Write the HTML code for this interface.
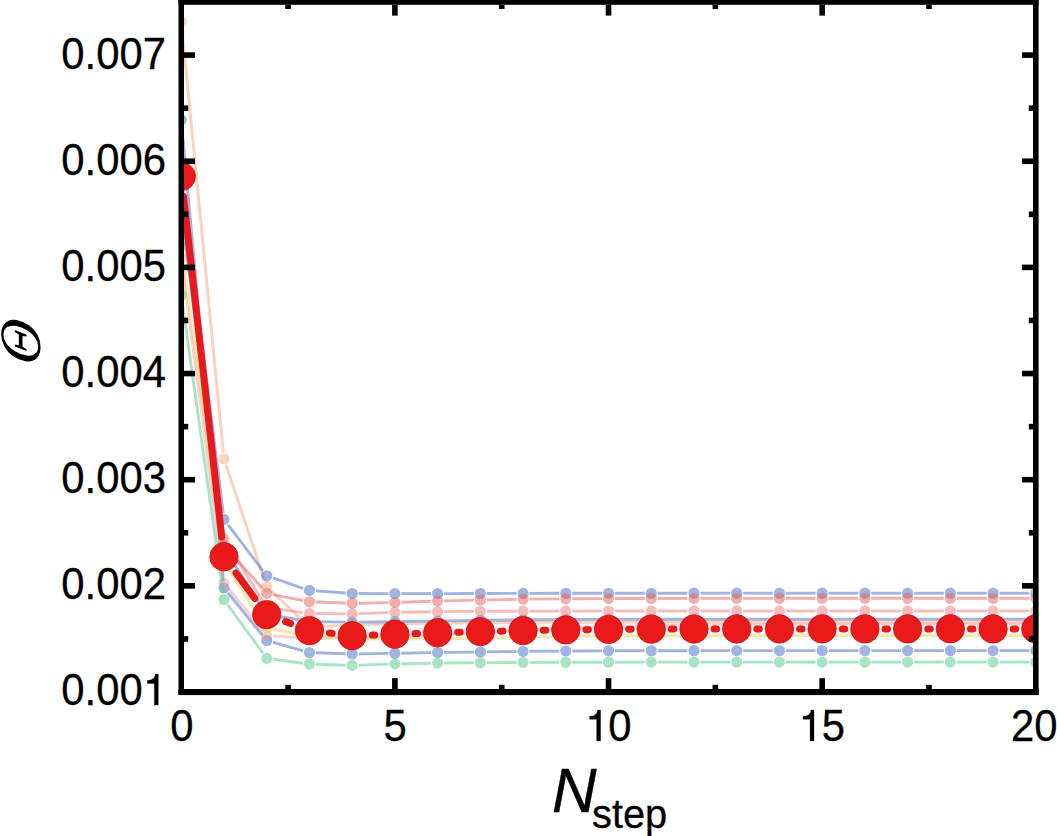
<!DOCTYPE html>
<html><head><meta charset="utf-8"><title>chart</title>
<style>
html,body{margin:0;padding:0;background:#fff;}
body{width:1057px;height:836px;overflow:hidden;font-family:"Liberation Sans",sans-serif;}
svg{display:block;}
</style></head><body>
<svg width="1057" height="836" viewBox="0 0 1057 836"><defs><clipPath id="pc"><rect x="184" y="4.8" width="849" height="684.2"/></clipPath></defs><g clip-path="url(#pc)"><g stroke="rgba(245,165,125,0.50)" stroke-width="2.90" fill="none"><line x1="181.88" y1="27.97" x2="223.35" y2="452.53"/><line x1="226.04" y1="465.16" x2="264.64" y2="580.44"/><line x1="271.43" y1="591.07" x2="304.71" y2="622.53"/><line x1="315.93" y1="626.70" x2="345.67" y2="625.30"/><line x1="358.66" y1="624.85" x2="388.39" y2="624.15"/><line x1="401.39" y1="623.89" x2="431.12" y2="623.41"/><line x1="444.11" y1="623.22" x2="473.84" y2="622.88"/><line x1="486.84" y1="622.75" x2="516.57" y2="622.49"/><line x1="529.57" y1="622.41" x2="559.30" y2="622.27"/><line x1="572.30" y1="622.23" x2="602.03" y2="622.15"/><line x1="615.02" y1="622.12" x2="644.75" y2="622.08"/><line x1="657.75" y1="622.07" x2="687.48" y2="622.05"/><line x1="700.48" y1="622.04" x2="730.21" y2="622.02"/><line x1="743.21" y1="622.02" x2="772.94" y2="622.01"/><line x1="785.93" y1="622.01" x2="815.66" y2="622.01"/><line x1="828.66" y1="622.01" x2="858.39" y2="622.00"/><line x1="871.39" y1="622.00" x2="901.12" y2="622.00"/><line x1="914.12" y1="622.00" x2="943.85" y2="622.00"/><line x1="956.84" y1="622.00" x2="986.57" y2="622.00"/><line x1="999.57" y1="622.00" x2="1029.30" y2="622.00"/></g><g fill="rgba(245,165,125,0.50)"><circle cx="181.25" cy="21.50" r="5.60"/><circle cx="223.98" cy="459.00" r="5.60"/><circle cx="266.70" cy="586.60" r="5.60"/><circle cx="309.43" cy="627.00" r="5.60"/><circle cx="352.16" cy="625.00" r="5.60"/><circle cx="394.89" cy="624.00" r="5.60"/><circle cx="437.61" cy="623.30" r="5.60"/><circle cx="480.34" cy="622.80" r="5.60"/><circle cx="523.07" cy="622.44" r="5.60"/><circle cx="565.80" cy="622.24" r="5.60"/><circle cx="608.52" cy="622.13" r="5.60"/><circle cx="651.25" cy="622.07" r="5.60"/><circle cx="693.98" cy="622.04" r="5.60"/><circle cx="736.71" cy="622.02" r="5.60"/><circle cx="779.43" cy="622.01" r="5.60"/><circle cx="822.16" cy="622.01" r="5.60"/><circle cx="864.89" cy="622.00" r="5.60"/><circle cx="907.62" cy="622.00" r="5.60"/><circle cx="950.35" cy="622.00" r="5.60"/><circle cx="993.07" cy="622.00" r="5.60"/><circle cx="1035.80" cy="622.00" r="5.60"/></g><g stroke="rgba(65,105,195,0.50)" stroke-width="2.90" fill="none"><line x1="181.84" y1="126.27" x2="223.39" y2="581.53"/><line x1="228.08" y1="593.04" x2="262.60" y2="635.46"/><line x1="272.96" y1="642.27" x2="303.18" y2="650.83"/><line x1="315.93" y1="652.81" x2="345.66" y2="653.79"/><line x1="358.66" y1="653.89" x2="388.39" y2="653.41"/><line x1="401.39" y1="653.18" x2="431.12" y2="652.62"/><line x1="444.11" y1="652.42" x2="473.84" y2="652.08"/><line x1="486.84" y1="651.90" x2="516.57" y2="651.47"/><line x1="529.57" y1="651.32" x2="559.30" y2="651.08"/><line x1="572.30" y1="650.99" x2="602.03" y2="650.86"/><line x1="615.02" y1="650.82" x2="644.75" y2="650.74"/><line x1="657.75" y1="650.72" x2="687.48" y2="650.68"/><line x1="700.48" y1="650.67" x2="730.21" y2="650.64"/><line x1="743.21" y1="650.64" x2="772.94" y2="650.62"/><line x1="785.93" y1="650.62" x2="815.66" y2="650.61"/><line x1="828.66" y1="650.61" x2="858.39" y2="650.61"/><line x1="871.39" y1="650.61" x2="901.12" y2="650.60"/><line x1="914.12" y1="650.60" x2="943.85" y2="650.60"/><line x1="956.84" y1="650.60" x2="986.57" y2="650.60"/><line x1="999.57" y1="650.60" x2="1029.30" y2="650.60"/></g><g fill="rgba(65,105,195,0.50)"><circle cx="181.25" cy="119.80" r="5.60"/><circle cx="223.98" cy="588.00" r="5.60"/><circle cx="266.70" cy="640.50" r="5.60"/><circle cx="309.43" cy="652.60" r="5.60"/><circle cx="352.16" cy="654.00" r="5.60"/><circle cx="394.89" cy="653.30" r="5.60"/><circle cx="437.61" cy="652.50" r="5.60"/><circle cx="480.34" cy="652.00" r="5.60"/><circle cx="523.07" cy="651.37" r="5.60"/><circle cx="565.80" cy="651.02" r="5.60"/><circle cx="608.52" cy="650.83" r="5.60"/><circle cx="651.25" cy="650.73" r="5.60"/><circle cx="693.98" cy="650.67" r="5.60"/><circle cx="736.71" cy="650.64" r="5.60"/><circle cx="779.43" cy="650.62" r="5.60"/><circle cx="822.16" cy="650.61" r="5.60"/><circle cx="864.89" cy="650.61" r="5.60"/><circle cx="907.62" cy="650.60" r="5.60"/><circle cx="950.35" cy="650.60" r="5.60"/><circle cx="993.07" cy="650.60" r="5.60"/><circle cx="1035.80" cy="650.60" r="5.60"/></g><g stroke="rgba(241,140,140,0.40)" stroke-width="2.90" fill="none"><line x1="182.10" y1="264.44" x2="223.13" y2="576.56"/><line x1="228.08" y1="588.04" x2="262.60" y2="630.46"/><line x1="273.19" y1="635.93" x2="302.95" y2="637.87"/><line x1="315.93" y1="638.25" x2="345.66" y2="638.05"/><line x1="358.66" y1="637.85" x2="388.39" y2="637.15"/><line x1="401.38" y1="636.70" x2="431.12" y2="635.30"/><line x1="444.10" y1="634.62" x2="473.85" y2="632.88"/><line x1="486.83" y1="632.12" x2="516.58" y2="630.38"/><line x1="529.56" y1="629.70" x2="559.30" y2="628.30"/><line x1="572.29" y1="627.79" x2="602.03" y2="626.81"/><line x1="615.02" y1="626.45" x2="644.75" y2="625.75"/><line x1="657.75" y1="625.51" x2="687.48" y2="625.09"/><line x1="700.48" y1="624.94" x2="730.21" y2="624.66"/><line x1="743.21" y1="624.55" x2="772.94" y2="624.35"/><line x1="785.93" y1="624.27" x2="815.66" y2="624.13"/><line x1="828.66" y1="624.08" x2="858.39" y2="624.02"/><line x1="871.39" y1="624.00" x2="901.12" y2="624.00"/><line x1="914.12" y1="624.00" x2="943.85" y2="624.00"/><line x1="956.85" y1="624.00" x2="986.57" y2="624.00"/><line x1="999.57" y1="624.00" x2="1029.30" y2="624.00"/></g><g fill="rgba(241,140,140,0.40)"><circle cx="181.25" cy="258.00" r="5.60"/><circle cx="223.98" cy="583.00" r="5.60"/><circle cx="266.70" cy="635.50" r="5.60"/><circle cx="309.43" cy="638.30" r="5.60"/><circle cx="352.16" cy="638.00" r="5.60"/><circle cx="394.89" cy="637.00" r="5.60"/><circle cx="437.61" cy="635.00" r="5.60"/><circle cx="480.34" cy="632.50" r="5.60"/><circle cx="523.07" cy="630.00" r="5.60"/><circle cx="565.80" cy="628.00" r="5.60"/><circle cx="608.52" cy="626.60" r="5.60"/><circle cx="651.25" cy="625.60" r="5.60"/><circle cx="693.98" cy="625.00" r="5.60"/><circle cx="736.71" cy="624.60" r="5.60"/><circle cx="779.43" cy="624.30" r="5.60"/><circle cx="822.16" cy="624.10" r="5.60"/><circle cx="864.89" cy="624.00" r="5.60"/><circle cx="907.62" cy="624.00" r="5.60"/><circle cx="950.35" cy="624.00" r="5.60"/><circle cx="993.07" cy="624.00" r="5.60"/><circle cx="1035.80" cy="624.00" r="5.60"/></g><g stroke="rgba(250,205,80,0.50)" stroke-width="2.90" fill="none"><line x1="182.12" y1="253.44" x2="223.11" y2="556.56"/><line x1="227.53" y1="568.44" x2="263.15" y2="623.06"/><line x1="273.12" y1="629.55" x2="303.02" y2="634.45"/><line x1="315.91" y1="636.00" x2="345.68" y2="638.30"/><line x1="358.66" y1="638.83" x2="388.39" y2="638.97"/><line x1="401.39" y1="638.97" x2="431.12" y2="638.83"/><line x1="444.11" y1="638.68" x2="473.84" y2="638.12"/><line x1="486.84" y1="637.85" x2="516.57" y2="637.15"/><line x1="529.57" y1="636.91" x2="559.30" y2="636.49"/><line x1="572.30" y1="636.35" x2="602.03" y2="636.09"/><line x1="615.02" y1="636.01" x2="644.75" y2="635.87"/><line x1="657.75" y1="635.83" x2="687.48" y2="635.75"/><line x1="700.48" y1="635.72" x2="730.21" y2="635.68"/><line x1="743.21" y1="635.67" x2="772.94" y2="635.65"/><line x1="785.93" y1="635.64" x2="815.66" y2="635.62"/><line x1="828.66" y1="635.62" x2="858.39" y2="635.61"/><line x1="871.39" y1="635.61" x2="901.12" y2="635.61"/><line x1="914.12" y1="635.61" x2="943.85" y2="635.60"/><line x1="956.84" y1="635.60" x2="986.57" y2="635.60"/><line x1="999.57" y1="635.60" x2="1029.30" y2="635.60"/></g><g fill="rgba(250,205,80,0.50)"><circle cx="181.25" cy="247.00" r="5.60"/><circle cx="223.98" cy="563.00" r="5.60"/><circle cx="266.70" cy="628.50" r="5.60"/><circle cx="309.43" cy="635.50" r="5.60"/><circle cx="352.16" cy="638.80" r="5.60"/><circle cx="394.89" cy="639.00" r="5.60"/><circle cx="437.61" cy="638.80" r="5.60"/><circle cx="480.34" cy="638.00" r="5.60"/><circle cx="523.07" cy="637.00" r="5.60"/><circle cx="565.80" cy="636.40" r="5.60"/><circle cx="608.52" cy="636.04" r="5.60"/><circle cx="651.25" cy="635.84" r="5.60"/><circle cx="693.98" cy="635.73" r="5.60"/><circle cx="736.71" cy="635.67" r="5.60"/><circle cx="779.43" cy="635.64" r="5.60"/><circle cx="822.16" cy="635.62" r="5.60"/><circle cx="864.89" cy="635.61" r="5.60"/><circle cx="907.62" cy="635.61" r="5.60"/><circle cx="950.35" cy="635.60" r="5.60"/><circle cx="993.07" cy="635.60" r="5.60"/><circle cx="1035.80" cy="635.60" r="5.60"/></g><g stroke="rgba(81,201,137,0.50)" stroke-width="2.90" fill="none"><line x1="182.15" y1="301.44" x2="223.07" y2="593.06"/><line x1="227.79" y1="604.76" x2="262.89" y2="653.14"/><line x1="273.15" y1="659.26" x2="302.99" y2="663.24"/><line x1="315.93" y1="664.30" x2="345.66" y2="665.20"/><line x1="358.66" y1="665.17" x2="388.39" y2="664.13"/><line x1="401.39" y1="663.78" x2="431.12" y2="663.22"/><line x1="444.11" y1="663.04" x2="473.84" y2="662.76"/><line x1="486.84" y1="662.66" x2="516.57" y2="662.47"/><line x1="529.57" y1="662.41" x2="559.30" y2="662.30"/><line x1="572.30" y1="662.27" x2="602.03" y2="662.21"/><line x1="615.02" y1="662.19" x2="644.75" y2="662.16"/><line x1="657.75" y1="662.15" x2="687.48" y2="662.13"/><line x1="700.48" y1="662.13" x2="730.21" y2="662.12"/><line x1="743.21" y1="662.12" x2="772.94" y2="662.11"/><line x1="785.93" y1="662.11" x2="815.66" y2="662.11"/><line x1="828.66" y1="662.10" x2="858.39" y2="662.10"/><line x1="871.39" y1="662.10" x2="901.12" y2="662.10"/><line x1="914.12" y1="662.10" x2="943.85" y2="662.10"/><line x1="956.84" y1="662.10" x2="986.57" y2="662.10"/><line x1="999.57" y1="662.10" x2="1029.30" y2="662.10"/></g><g fill="rgba(81,201,137,0.50)"><circle cx="181.25" cy="295.00" r="5.60"/><circle cx="223.98" cy="599.50" r="5.60"/><circle cx="266.70" cy="658.40" r="5.60"/><circle cx="309.43" cy="664.10" r="5.60"/><circle cx="352.16" cy="665.40" r="5.60"/><circle cx="394.89" cy="663.90" r="5.60"/><circle cx="437.61" cy="663.10" r="5.60"/><circle cx="480.34" cy="662.70" r="5.60"/><circle cx="523.07" cy="662.43" r="5.60"/><circle cx="565.80" cy="662.28" r="5.60"/><circle cx="608.52" cy="662.20" r="5.60"/><circle cx="651.25" cy="662.15" r="5.60"/><circle cx="693.98" cy="662.13" r="5.60"/><circle cx="736.71" cy="662.12" r="5.60"/><circle cx="779.43" cy="662.11" r="5.60"/><circle cx="822.16" cy="662.11" r="5.60"/><circle cx="864.89" cy="662.10" r="5.60"/><circle cx="907.62" cy="662.10" r="5.60"/><circle cx="950.35" cy="662.10" r="5.60"/><circle cx="993.07" cy="662.10" r="5.60"/><circle cx="1035.80" cy="662.10" r="5.60"/></g><g stroke="rgba(65,105,195,0.50)" stroke-width="2.90" fill="none"><line x1="182.07" y1="216.45" x2="223.16" y2="541.55"/><line x1="227.49" y1="553.47" x2="263.19" y2="609.03"/><line x1="273.12" y1="615.55" x2="303.02" y2="620.45"/><line x1="315.93" y1="621.61" x2="345.66" y2="622.09"/><line x1="358.66" y1="622.11" x2="388.39" y2="621.69"/><line x1="401.39" y1="621.51" x2="431.12" y2="621.09"/><line x1="444.11" y1="620.91" x2="473.84" y2="620.49"/><line x1="486.84" y1="620.32" x2="516.57" y2="619.94"/><line x1="529.57" y1="619.81" x2="559.30" y2="619.61"/><line x1="572.30" y1="619.54" x2="602.03" y2="619.42"/><line x1="615.02" y1="619.39" x2="644.75" y2="619.32"/><line x1="657.75" y1="619.30" x2="687.48" y2="619.27"/><line x1="700.48" y1="619.26" x2="730.21" y2="619.24"/><line x1="743.21" y1="619.23" x2="772.94" y2="619.22"/><line x1="785.93" y1="619.22" x2="815.66" y2="619.21"/><line x1="828.66" y1="619.21" x2="858.39" y2="619.21"/><line x1="871.39" y1="619.21" x2="901.12" y2="619.20"/><line x1="914.12" y1="619.20" x2="943.85" y2="619.20"/><line x1="956.84" y1="619.20" x2="986.57" y2="619.20"/><line x1="999.57" y1="619.20" x2="1029.30" y2="619.20"/></g><g fill="rgba(65,105,195,0.50)"><circle cx="181.25" cy="210.00" r="5.60"/><circle cx="223.98" cy="548.00" r="5.60"/><circle cx="266.70" cy="614.50" r="5.60"/><circle cx="309.43" cy="621.50" r="5.60"/><circle cx="352.16" cy="622.20" r="5.60"/><circle cx="394.89" cy="621.60" r="5.60"/><circle cx="437.61" cy="621.00" r="5.60"/><circle cx="480.34" cy="620.40" r="5.60"/><circle cx="523.07" cy="619.86" r="5.60"/><circle cx="565.80" cy="619.56" r="5.60"/><circle cx="608.52" cy="619.40" r="5.60"/><circle cx="651.25" cy="619.31" r="5.60"/><circle cx="693.98" cy="619.26" r="5.60"/><circle cx="736.71" cy="619.23" r="5.60"/><circle cx="779.43" cy="619.22" r="5.60"/><circle cx="822.16" cy="619.21" r="5.60"/><circle cx="864.89" cy="619.21" r="5.60"/><circle cx="907.62" cy="619.20" r="5.60"/><circle cx="950.35" cy="619.20" r="5.60"/><circle cx="993.07" cy="619.20" r="5.60"/><circle cx="1035.80" cy="619.20" r="5.60"/></g><g stroke="rgba(65,105,195,0.50)" stroke-width="2.90" fill="none"><line x1="182.05" y1="182.95" x2="223.17" y2="512.95"/><line x1="227.90" y1="524.58" x2="262.78" y2="570.62"/><line x1="272.86" y1="577.90" x2="303.28" y2="588.30"/><line x1="315.92" y1="590.87" x2="345.68" y2="593.03"/><line x1="358.66" y1="593.52" x2="388.39" y2="593.58"/><line x1="401.39" y1="593.60" x2="431.11" y2="593.60"/><line x1="444.11" y1="593.58" x2="473.84" y2="593.52"/><line x1="486.84" y1="593.48" x2="516.57" y2="593.39"/><line x1="529.57" y1="593.35" x2="559.30" y2="593.30"/><line x1="572.30" y1="593.28" x2="602.03" y2="593.26"/><line x1="615.02" y1="593.25" x2="644.75" y2="593.23"/><line x1="657.75" y1="593.23" x2="687.48" y2="593.22"/><line x1="700.48" y1="593.21" x2="730.21" y2="593.21"/><line x1="743.21" y1="593.21" x2="772.94" y2="593.21"/><line x1="785.93" y1="593.20" x2="815.66" y2="593.20"/><line x1="828.66" y1="593.20" x2="858.39" y2="593.20"/><line x1="871.39" y1="593.20" x2="901.12" y2="593.20"/><line x1="914.12" y1="593.20" x2="943.85" y2="593.20"/><line x1="956.84" y1="593.20" x2="986.57" y2="593.20"/><line x1="999.57" y1="593.20" x2="1029.30" y2="593.20"/></g><g fill="rgba(65,105,195,0.50)"><circle cx="181.25" cy="176.50" r="5.60"/><circle cx="223.98" cy="519.40" r="5.60"/><circle cx="266.70" cy="575.80" r="5.60"/><circle cx="309.43" cy="590.40" r="5.60"/><circle cx="352.16" cy="593.50" r="5.60"/><circle cx="394.89" cy="593.60" r="5.60"/><circle cx="437.61" cy="593.60" r="5.60"/><circle cx="480.34" cy="593.50" r="5.60"/><circle cx="523.07" cy="593.37" r="5.60"/><circle cx="565.80" cy="593.29" r="5.60"/><circle cx="608.52" cy="593.25" r="5.60"/><circle cx="651.25" cy="593.23" r="5.60"/><circle cx="693.98" cy="593.22" r="5.60"/><circle cx="736.71" cy="593.21" r="5.60"/><circle cx="779.43" cy="593.20" r="5.60"/><circle cx="822.16" cy="593.20" r="5.60"/><circle cx="864.89" cy="593.20" r="5.60"/><circle cx="907.62" cy="593.20" r="5.60"/><circle cx="950.35" cy="593.20" r="5.60"/><circle cx="993.07" cy="593.20" r="5.60"/><circle cx="1035.80" cy="593.20" r="5.60"/></g><g stroke="rgba(237,121,121,0.50)" stroke-width="2.90" fill="none"><line x1="182.06" y1="206.45" x2="223.16" y2="532.35"/><line x1="227.41" y1="544.32" x2="263.27" y2="601.98"/><line x1="273.14" y1="608.40" x2="303.00" y2="612.60"/><line x1="315.93" y1="613.56" x2="345.66" y2="613.84"/><line x1="358.66" y1="613.67" x2="388.39" y2="612.63"/><line x1="401.39" y1="612.28" x2="431.12" y2="611.72"/><line x1="444.11" y1="611.55" x2="473.84" y2="611.35"/><line x1="486.84" y1="611.28" x2="516.57" y2="611.19"/><line x1="529.57" y1="611.15" x2="559.30" y2="611.10"/><line x1="572.30" y1="611.08" x2="602.03" y2="611.06"/><line x1="615.02" y1="611.05" x2="644.75" y2="611.03"/><line x1="657.75" y1="611.03" x2="687.48" y2="611.02"/><line x1="700.48" y1="611.01" x2="730.21" y2="611.01"/><line x1="743.21" y1="611.01" x2="772.94" y2="611.01"/><line x1="785.93" y1="611.00" x2="815.66" y2="611.00"/><line x1="828.66" y1="611.00" x2="858.39" y2="611.00"/><line x1="871.39" y1="611.00" x2="901.12" y2="611.00"/><line x1="914.12" y1="611.00" x2="943.85" y2="611.00"/><line x1="956.84" y1="611.00" x2="986.57" y2="611.00"/><line x1="999.57" y1="611.00" x2="1029.30" y2="611.00"/></g><g fill="rgba(237,121,121,0.50)"><circle cx="181.25" cy="200.00" r="5.60"/><circle cx="223.98" cy="538.80" r="5.60"/><circle cx="266.70" cy="607.50" r="5.60"/><circle cx="309.43" cy="613.50" r="5.60"/><circle cx="352.16" cy="613.90" r="5.60"/><circle cx="394.89" cy="612.40" r="5.60"/><circle cx="437.61" cy="611.60" r="5.60"/><circle cx="480.34" cy="611.30" r="5.60"/><circle cx="523.07" cy="611.16" r="5.60"/><circle cx="565.80" cy="611.09" r="5.60"/><circle cx="608.52" cy="611.05" r="5.60"/><circle cx="651.25" cy="611.03" r="5.60"/><circle cx="693.98" cy="611.02" r="5.60"/><circle cx="736.71" cy="611.01" r="5.60"/><circle cx="779.43" cy="611.00" r="5.60"/><circle cx="822.16" cy="611.00" r="5.60"/><circle cx="864.89" cy="611.00" r="5.60"/><circle cx="907.62" cy="611.00" r="5.60"/><circle cx="950.35" cy="611.00" r="5.60"/><circle cx="993.07" cy="611.00" r="5.60"/><circle cx="1035.80" cy="611.00" r="5.60"/></g><g stroke="rgba(230,92,92,0.50)" stroke-width="2.90" fill="none"><line x1="182.02" y1="191.45" x2="223.21" y2="538.55"/><line x1="228.28" y1="549.87" x2="262.40" y2="588.43"/><line x1="273.08" y1="594.57" x2="303.06" y2="600.53"/><line x1="315.93" y1="602.03" x2="345.66" y2="603.07"/><line x1="358.66" y1="603.18" x2="388.39" y2="602.62"/><line x1="401.38" y1="602.27" x2="431.12" y2="601.23"/><line x1="444.11" y1="600.85" x2="473.84" y2="600.15"/><line x1="486.84" y1="599.88" x2="516.57" y2="599.35"/><line x1="529.57" y1="599.17" x2="559.30" y2="598.88"/><line x1="572.30" y1="598.78" x2="602.03" y2="598.62"/><line x1="615.02" y1="598.56" x2="644.75" y2="598.47"/><line x1="657.75" y1="598.44" x2="687.48" y2="598.40"/><line x1="700.48" y1="598.38" x2="730.21" y2="598.35"/><line x1="743.21" y1="598.34" x2="772.94" y2="598.33"/><line x1="785.93" y1="598.32" x2="815.66" y2="598.32"/><line x1="828.66" y1="598.31" x2="858.39" y2="598.31"/><line x1="871.39" y1="598.31" x2="901.12" y2="598.30"/><line x1="914.12" y1="598.30" x2="943.85" y2="598.30"/><line x1="956.84" y1="598.30" x2="986.57" y2="598.30"/><line x1="999.57" y1="598.30" x2="1029.30" y2="598.30"/></g><g fill="rgba(230,92,92,0.50)"><circle cx="181.25" cy="185.00" r="5.60"/><circle cx="223.98" cy="545.00" r="5.60"/><circle cx="266.70" cy="593.30" r="5.60"/><circle cx="309.43" cy="601.80" r="5.60"/><circle cx="352.16" cy="603.30" r="5.60"/><circle cx="394.89" cy="602.50" r="5.60"/><circle cx="437.61" cy="601.00" r="5.60"/><circle cx="480.34" cy="600.00" r="5.60"/><circle cx="523.07" cy="599.24" r="5.60"/><circle cx="565.80" cy="598.81" r="5.60"/><circle cx="608.52" cy="598.58" r="5.60"/><circle cx="651.25" cy="598.46" r="5.60"/><circle cx="693.98" cy="598.39" r="5.60"/><circle cx="736.71" cy="598.35" r="5.60"/><circle cx="779.43" cy="598.33" r="5.60"/><circle cx="822.16" cy="598.31" r="5.60"/><circle cx="864.89" cy="598.31" r="5.60"/><circle cx="907.62" cy="598.30" r="5.60"/><circle cx="950.35" cy="598.30" r="5.60"/><circle cx="993.07" cy="598.30" r="5.60"/><circle cx="1035.80" cy="598.30" r="5.60"/></g><g stroke="#e8191b" stroke-width="7.00" stroke-linecap="round" fill="none"><line x1="183.49" y1="196.47" x2="221.73" y2="536.83"/><line x1="235.93" y1="572.96" x2="254.76" y2="598.44"/><line x1="285.53" y1="621.65" x2="290.61" y2="623.55"/><line x1="329.39" y1="633.03" x2="332.21" y2="633.37"/><line x1="372.25" y1="635.09" x2="374.80" y2="635.01"/><line x1="414.98" y1="633.59" x2="417.53" y2="633.51"/><line x1="457.71" y1="632.24" x2="460.25" y2="632.16"/><line x1="500.44" y1="631.13" x2="502.98" y2="631.07"/><line x1="543.17" y1="630.27" x2="545.70" y2="630.23"/><line x1="585.90" y1="629.66" x2="588.43" y2="629.64"/><line x1="628.62" y1="629.29" x2="631.15" y2="629.28"/><line x1="671.35" y1="629.12" x2="673.88" y2="629.11"/><line x1="714.08" y1="629.02" x2="716.61" y2="629.02"/><line x1="756.81" y1="628.97" x2="759.34" y2="628.96"/><line x1="799.53" y1="628.94" x2="802.06" y2="628.93"/><line x1="842.26" y1="628.92" x2="844.79" y2="628.92"/><line x1="884.99" y1="628.91" x2="887.52" y2="628.91"/><line x1="927.72" y1="628.91" x2="930.25" y2="628.91"/><line x1="970.44" y1="628.90" x2="972.97" y2="628.90"/><line x1="1013.17" y1="628.90" x2="1015.70" y2="628.90"/></g><g fill="#eb1a1a" stroke="#d01212" stroke-width="0.8"><circle cx="181.25" cy="176.50" r="14.20"/><circle cx="223.98" cy="556.80" r="14.20"/><circle cx="266.70" cy="614.60" r="14.20"/><circle cx="309.43" cy="630.60" r="14.20"/><circle cx="352.16" cy="635.80" r="14.20"/><circle cx="394.89" cy="634.30" r="14.20"/><circle cx="437.61" cy="632.80" r="14.20"/><circle cx="480.34" cy="631.60" r="14.20"/><circle cx="523.07" cy="630.60" r="14.20"/><circle cx="565.80" cy="629.90" r="14.20"/><circle cx="608.52" cy="629.40" r="14.20"/><circle cx="651.25" cy="629.17" r="14.20"/><circle cx="693.98" cy="629.05" r="14.20"/><circle cx="736.71" cy="628.98" r="14.20"/><circle cx="779.43" cy="628.95" r="14.20"/><circle cx="822.16" cy="628.93" r="14.20"/><circle cx="864.89" cy="628.91" r="14.20"/><circle cx="907.62" cy="628.91" r="14.20"/><circle cx="950.35" cy="628.90" r="14.20"/><circle cx="993.07" cy="628.90" r="14.20"/><circle cx="1035.80" cy="628.90" r="14.20"/></g></g><g fill="#000"><rect x="178.5" y="0" width="5.5" height="695"/><rect x="1033" y="0" width="5.6" height="695"/><rect x="178.5" y="0" width="860.1" height="4.8"/><rect x="178.5" y="689" width="860.1" height="6.1"/><rect x="184" y="636.13" width="4.20" height="5.60"/><rect x="1028.80" y="636.13" width="4.20" height="5.60"/><rect x="184" y="583.05" width="11.00" height="5.60"/><rect x="1022.00" y="583.05" width="11.00" height="5.60"/><rect x="184" y="529.98" width="4.20" height="5.60"/><rect x="1028.80" y="529.98" width="4.20" height="5.60"/><rect x="184" y="476.90" width="11.00" height="5.60"/><rect x="1022.00" y="476.90" width="11.00" height="5.60"/><rect x="184" y="423.83" width="4.20" height="5.60"/><rect x="1028.80" y="423.83" width="4.20" height="5.60"/><rect x="184" y="370.75" width="11.00" height="5.60"/><rect x="1022.00" y="370.75" width="11.00" height="5.60"/><rect x="184" y="317.68" width="4.20" height="5.60"/><rect x="1028.80" y="317.68" width="4.20" height="5.60"/><rect x="184" y="264.60" width="11.00" height="5.60"/><rect x="1022.00" y="264.60" width="11.00" height="5.60"/><rect x="184" y="211.53" width="4.20" height="5.60"/><rect x="1028.80" y="211.53" width="4.20" height="5.60"/><rect x="184" y="158.45" width="11.00" height="5.60"/><rect x="1022.00" y="158.45" width="11.00" height="5.60"/><rect x="184" y="105.38" width="4.20" height="5.60"/><rect x="1028.80" y="105.38" width="4.20" height="5.60"/><rect x="184" y="52.30" width="11.00" height="5.60"/><rect x="1022.00" y="52.30" width="11.00" height="5.60"/><rect x="285.27" y="684.80" width="5.60" height="4.20"/><rect x="285.27" y="4.8" width="5.60" height="4.20"/><rect x="392.09" y="678.20" width="5.60" height="10.80"/><rect x="392.09" y="4.8" width="5.60" height="10.80"/><rect x="498.91" y="684.80" width="5.60" height="4.20"/><rect x="498.91" y="4.8" width="5.60" height="4.20"/><rect x="605.73" y="678.20" width="5.60" height="10.80"/><rect x="605.73" y="4.8" width="5.60" height="10.80"/><rect x="712.54" y="684.80" width="5.60" height="4.20"/><rect x="712.54" y="4.8" width="5.60" height="4.20"/><rect x="819.36" y="678.20" width="5.60" height="10.80"/><rect x="819.36" y="4.8" width="5.60" height="10.80"/><rect x="926.18" y="684.80" width="5.60" height="4.20"/><rect x="926.18" y="4.8" width="5.60" height="4.20"/></g><g font-family="Liberation Sans" font-size="43.80" fill="#000" stroke="#000" stroke-width="0.3"><g transform="translate(61.329,69.100) scale(0.9550,1)"><text x="0.000" y="0">0</text><text x="24.359" y="0">.</text><text x="36.529" y="0">0</text><text x="60.888" y="0">0</text><text x="85.247" y="0">7</text></g><g transform="translate(61.329,175.100) scale(0.9550,1)"><text x="0.000" y="0">0</text><text x="24.359" y="0">.</text><text x="36.529" y="0">0</text><text x="60.888" y="0">0</text><text x="85.247" y="0">6</text></g><g transform="translate(61.329,281.100) scale(0.9550,1)"><text x="0.000" y="0">0</text><text x="24.359" y="0">.</text><text x="36.529" y="0">0</text><text x="60.888" y="0">0</text><text x="85.247" y="0">5</text></g><g transform="translate(61.329,387.100) scale(0.9550,1)"><text x="0.000" y="0">0</text><text x="24.359" y="0">.</text><text x="36.529" y="0">0</text><text x="60.888" y="0">0</text><text x="85.247" y="0">4</text></g><g transform="translate(61.329,493.100) scale(0.9550,1)"><text x="0.000" y="0">0</text><text x="24.359" y="0">.</text><text x="36.529" y="0">0</text><text x="60.888" y="0">0</text><text x="85.247" y="0">3</text></g><g transform="translate(61.329,599.100) scale(0.9550,1)"><text x="0.000" y="0">0</text><text x="24.359" y="0">.</text><text x="36.529" y="0">0</text><text x="60.888" y="0">0</text><text x="85.247" y="0">2</text></g><g transform="translate(61.329,705.100) scale(0.9550,1)"><text x="0.000" y="0">0</text><text x="24.359" y="0">.</text><text x="36.529" y="0">0</text><text x="60.888" y="0">0</text><path transform="translate(85.247,0) scale(0.04380,-0.04380)" vector-effect="non-scaling-stroke" d="M372 0L278 0L278 494L109 494L109 563C200 566 286 590 300 709L372 709Z"/></g><g transform="translate(170.366,741.000) scale(0.9550,1)"><text x="0.000" y="0">0</text></g><g transform="translate(383.525,741.000) scale(0.9550,1)"><text x="0.000" y="0">5</text></g><g transform="translate(585.041,741.000) scale(0.9550,1)"><path transform="translate(0.000,0) scale(0.04380,-0.04380)" vector-effect="non-scaling-stroke" d="M372 0L278 0L278 494L109 494L109 563C200 566 286 590 300 709L372 709Z"/><text x="24.359" y="0">0</text></g><g transform="translate(798.441,741.000) scale(0.9550,1)"><path transform="translate(0.000,0) scale(0.04380,-0.04380)" vector-effect="non-scaling-stroke" d="M372 0L278 0L278 494L109 494L109 563C200 566 286 590 300 709L372 709Z"/><text x="24.359" y="0">5</text></g><g transform="translate(1010.996,741.000) scale(0.9550,1)"><text x="0.000" y="0">2</text><text x="24.359" y="0">0</text></g></g><text transform="translate(40,367.1) rotate(-90) scale(1.04,1) skewX(-10)" font-family="Liberation Serif" font-style="italic" font-size="58.6" fill="#000">&#920;</text><text transform="translate(552,811.9) scale(0.985,1)" font-family="Liberation Sans" font-style="italic" font-size="62.65" fill="#000" stroke="#000" stroke-width="0.4">N</text><text transform="translate(592,827.5) scale(0.975,1)" font-family="Liberation Sans" font-size="40.8" fill="#000" stroke="#000" stroke-width="0.3">step</text></svg>
</body></html>
